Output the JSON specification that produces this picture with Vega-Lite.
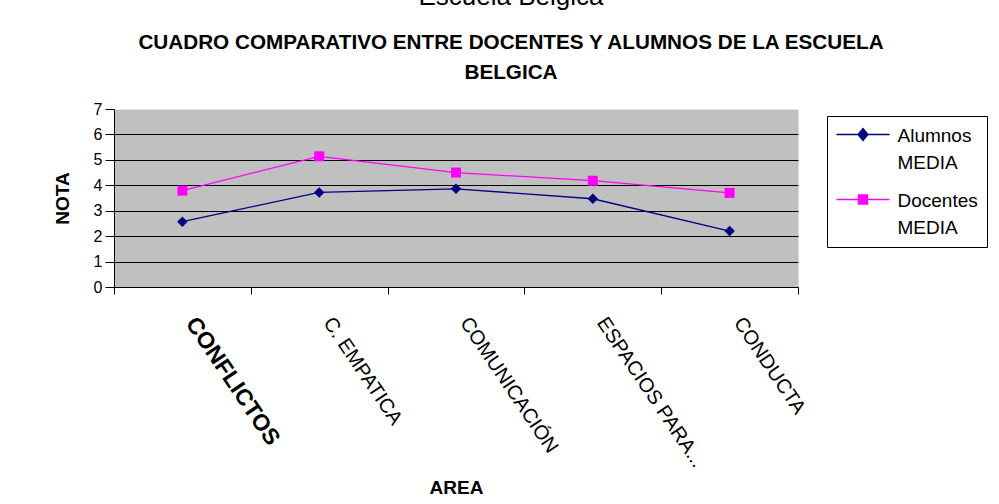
{
  "$schema": "https://vega.github.io/schema/vega-lite/v6.json",
  "autosize": {"type": "none"},
  "width": 684,
  "height": 178,
  "padding": {"left": 114, "top": 109, "right": 201, "bottom": 217},
  "background": "white",
  "title": {
    "text": "Escuela Belgica",
    "subtitle": ["CUADRO COMPARATIVO ENTRE DOCENTES Y ALUMNOS DE LA ESCUELA", "BELGICA"],
    "anchor": "middle",
    "dx": 55,
    "font": "Liberation Sans",
    "fontSize": 26,
    "fontWeight": "normal",
    "color": "black",
    "subtitleFont": "Liberation Sans",
    "subtitleFontSize": 20.7,
    "subtitleFontWeight": "bold",
    "subtitleColor": "black",
    "subtitleLineHeight": 30,
    "subtitlePadding": 23,
    "offset": 18
  },
  "data": {
    "values": [
      {"area": "CONFLICTOS", "serie": "Alumnos MEDIA", "nota": 2.57},
      {"area": "C. EMPATICA", "serie": "Alumnos MEDIA", "nota": 3.72},
      {"area": "COMUNICACIÓN", "serie": "Alumnos MEDIA", "nota": 3.86},
      {"area": "ESPACIOS PARA...", "serie": "Alumnos MEDIA", "nota": 3.47},
      {"area": "CONDUCTA", "serie": "Alumnos MEDIA", "nota": 2.2},
      {"area": "CONFLICTOS", "serie": "Docentes MEDIA", "nota": 3.79},
      {"area": "C. EMPATICA", "serie": "Docentes MEDIA", "nota": 5.14},
      {"area": "COMUNICACIÓN", "serie": "Docentes MEDIA", "nota": 4.5},
      {"area": "ESPACIOS PARA...", "serie": "Docentes MEDIA", "nota": 4.18},
      {"area": "CONDUCTA", "serie": "Docentes MEDIA", "nota": 3.7}
    ]
  },
  "encoding": {
    "x": {
      "field": "area",
      "type": "nominal",
      "sort": null,
      "scale": {"paddingInner": 0, "paddingOuter": 0},
      "axis": {
        "title": "AREA",
        "labelAngle": 56,
        "labelAlign": "left",
        "labelBaseline": "middle",
        "labelFont": "Liberation Sans",
        "labelFontSize": {"condition": {"test": "datum.value == 'CONFLICTOS'", "value": 23}, "value": 20},
        "labelFontWeight": {"condition": {"test": "datum.value == 'CONFLICTOS'", "value": "bold"}, "value": "normal"},
        "labelColor": "black",
        "labelPadding": 25,
        "labelOffset": 8,
        "labelLimit": 400,
        "tickBand": "extent",
        "tickColor": "black",
        "tickSize": 7,
        "domainColor": "black",
        "titleFont": "Liberation Sans",
        "titleFontSize": 19,
        "titleFontWeight": "bold",
        "titleColor": "black",
        "titleBaseline": "middle",
        "titleY": 200
      }
    },
    "y": {
      "field": "nota",
      "type": "quantitative",
      "scale": {"domain": [0, 7], "nice": false},
      "axis": {
        "title": "NOTA",
        "values": [0, 1, 2, 3, 4, 5, 6, 7],
        "labelFont": "Liberation Sans",
        "labelFontSize": 16,
        "labelColor": "black",
        "labelPadding": 3,
        "tickColor": "black",
        "tickSize": 9,
        "domainColor": "black",
        "grid": true,
        "gridColor": {"condition": {"test": "datum.value == 7", "value": "#e4e4e4"}, "value": "black"},
        "titleFont": "Liberation Sans",
        "titleFontSize": 19,
        "titleFontWeight": "bold",
        "titleColor": "black",
        "titleBaseline": "middle",
        "titleX": -52
      }
    },
    "color": {
      "field": "serie",
      "type": "nominal",
      "scale": {"domain": ["Alumnos MEDIA", "Docentes MEDIA"], "range": ["#000080", "#FF00FF"]},
      "legend": {
        "orient": "none",
        "legendX": 713,
        "legendY": 7,
        "title": null,
        "labelExpr": "datum.label == 'Docentes MEDIA' ? [' Docentes', 'MEDIA'] : ['Alumnos', 'MEDIA']",
        "labelFont": "Liberation Sans",
        "labelFontSize": 19,
        "labelColor": "black",
        "labelBaseline": "alphabetic",
        "labelLimit": 200,
        "labelOffset": 25,
        "strokeColor": "black",
        "fillColor": "white",
        "padding": 9,
        "rowPadding": 17,
        "symbolSize": 100,
        "symbolOffset": 17.5,
        "symbolStrokeWidth": 1.3,
        "encode": {
          "symbols": {
            "update": {
              "shape": {"signal": "datum.value == 'Alumnos MEDIA' ? 'M-5.3,0H5.3M-1,0L0,-1.2L1,0L0,1.2Z' : 'M-5.3,0H5.3M-0.9,-0.9H0.9V0.9H-0.9Z'"},
              "fill": {"scale": "color", "field": "value"},
              "stroke": {"scale": "color", "field": "value"},
              "opacity": {"value": 1},
              "fillOpacity": {"value": 1}
            }
          },
          "labels": {
            "update": {
              "dy": {"value": 7},
              "lineHeight": {"value": 27}
            }
          }
        }
      }
    }
  },
  "layer": [
    {"mark": {"type": "line", "strokeWidth": 1.3}},
    {
      "transform": [{"filter": "datum.serie == 'Alumnos MEDIA'"}],
      "mark": {"type": "point", "filled": true, "opacity": 1, "size": 110, "shape": "diamond"}
    },
    {
      "transform": [{"filter": "datum.serie == 'Docentes MEDIA'"}],
      "mark": {"type": "point", "filled": true, "opacity": 1, "size": 100, "shape": "square"}
    }
  ],
  "config": {
    "view": {"fill": "#C0C0C0", "stroke": "#dcdcdc", "strokeWidth": 1}
  }
}
